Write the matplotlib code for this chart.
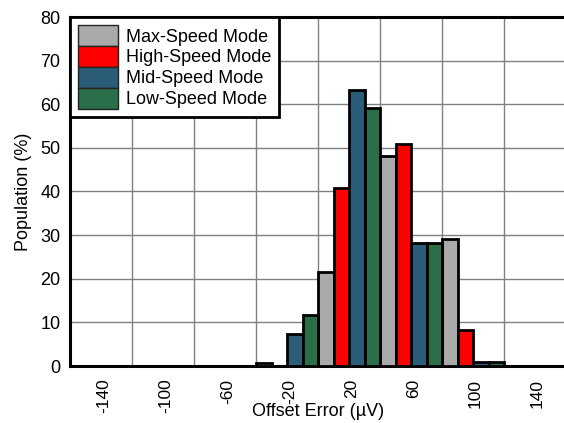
import matplotlib
matplotlib.use('Agg')
import matplotlib.pyplot as plt
import matplotlib.transforms as mtransforms
import numpy as np

plt.rcParams['font.family'] = ['Liberation Sans', 'DejaVu Sans']

# bins (uV) and population (%) for each mode
bins = ['-140', '-100', '-60', '-20', '20', '60', '100', '140']
max_speed = [0, 0, 0, 0.8, 21.6, 48.2, 29.0, 0]
high_speed = [0, 0, 0, 0, 40.8, 50.8, 8.2, 0]
mid_speed = [0, 0, 0, 7.3, 63.3, 28.3, 0.9, 0]
low_speed = [0, 0, 0, 11.6, 59.1, 28.3, 0.9, 0]

series = [('Max-Speed Mode', max_speed, '#AAAAAA'),
          ('High-Speed Mode', high_speed, '#FF0000'),
          ('Mid-Speed Mode', mid_speed, '#2B5C78'),
          ('Low-Speed Mode', low_speed, '#2A6E4A')]

fig = plt.figure(figsize=(5.64, 4.23), dpi=100)
ax = fig.add_axes([70/564, 57/423, 496/564, 349/423])

x = np.arange(len(bins))
w = 0.25
for j, (name, vals, col) in enumerate(series):
    ax.bar(x + (j - 1.5)*w, vals, width=w, color=col, edgecolor='black',
           linewidth=2, label=name, zorder=3)

ax.set_xlim(-0.5, len(bins) - 0.5)
ax.set_ylim(0, 80)
ax.set_xticks(x)
ax.set_xticklabels(bins, rotation=90)
ax.set_xticks(np.arange(0.5, len(bins) - 0.5), minor=True)
ax.set_yticks(np.arange(0, 81, 10))
ax.tick_params(axis='x', which='both', length=0, labelsize=12.5, pad=9)
ax.tick_params(axis='y', which='both', length=0, labelsize=13, pad=7)
ax.grid(True, which='minor', axis='x', color='#808080', linewidth=1, zorder=0)
ax.grid(True, which='major', axis='y', color='#808080', linewidth=1, zorder=0)
ax.grid(False, which='major', axis='x')
for s in ax.spines.values():
    s.set_linewidth(2.2)
    s.set_color('black')

# rotated labels sit a little to the right in the original
shift = mtransforms.ScaledTranslation(0.025, 0, fig.dpi_scale_trans)
for lab in ax.get_xticklabels():
    lab.set_transform(lab.get_transform() + shift)

ax.set_xlabel('Offset Error (\u00b5V)', fontsize=13)
ax.xaxis.set_label_coords(0.5, -0.107)
ax.set_ylabel('Population (%)', fontsize=13, labelpad=6)

leg = ax.legend(loc='upper left', fontsize=13, frameon=True, fancybox=False,
                borderaxespad=0, handlelength=2.2, handleheight=1.4,
                labelspacing=0.0, handletextpad=0.45, borderpad=0.45)
leg.get_frame().set_edgecolor('black')
leg.get_frame().set_linewidth(2)
leg.get_frame().set_alpha(1)
for p in leg.get_patches():
    p.set_linewidth(1)
    p.set_edgecolor('#222222')
leg.set_zorder(5)

fig.savefig('out.png', dpi=100)
